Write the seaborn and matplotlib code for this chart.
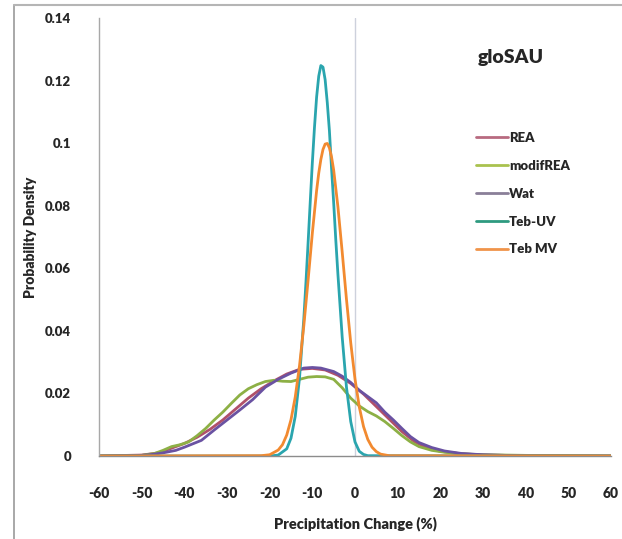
import numpy as np
import pandas as pd
import seaborn as sns
import matplotlib
matplotlib.use("Agg")
import matplotlib.pyplot as plt
from matplotlib.lines import Line2D

# Precipitation change (%) and probability density for each estimate
rea_x = [-60, -50, -46, -43, -40, -37, -34, -31, -28, -25, -22, -19, -16, -13, -10, -7, -4, -1,
         2, 5, 8, 11, 14, 17, 20, 25, 30, 40, 60]
rea_y = [0, 0.0003, 0.001, 0.0025, 0.004, 0.006, 0.0085, 0.0115, 0.015, 0.0185, 0.0215, 0.024,
         0.0262, 0.0277, 0.028, 0.0275, 0.0258, 0.0232, 0.0198, 0.0158, 0.0118, 0.0078, 0.0045,
         0.0025, 0.0015, 0.0007, 0.0003, 0.0001, 0]

modrea_x = [-60, -50, -47, -45, -43, -41, -39, -37, -35, -33, -31, -29, -27, -25, -23, -21, -19,
            -17, -15, -13, -11, -9, -7, -5, -3, -1, 1, 3, 5, 7, 9, 11, 13, 15, 18, 21, 25, 30,
            40, 50, 60]
modrea_y = [0, 0.0002, 0.0008, 0.0018, 0.003, 0.0036, 0.0045, 0.0065, 0.0088, 0.0115, 0.014,
            0.0168, 0.0195, 0.0215, 0.0228, 0.0238, 0.0242, 0.0239, 0.0238, 0.0245, 0.0252,
            0.0254, 0.0253, 0.0245, 0.0218, 0.0185, 0.016, 0.0142, 0.0128, 0.011, 0.0088,
            0.0065, 0.0045, 0.003, 0.0018, 0.0012, 0.0007, 0.0004, 0.0002, 0.0001, 0]

wat_x = [-60, -50, -48, -45, -42, -40, -36, -33, -30, -27, -24, -21, -18, -15, -12, -10, -8, -5,
         -3, -1, 1, 3, 5, 7, 9, 11, 13, 15, 18, 21, 25, 30, 35, 40, 50, 60]
wat_y = [0, 0.0002, 0.0004, 0.001, 0.0018, 0.0028, 0.005, 0.0083, 0.0115, 0.0147, 0.018, 0.022,
         0.0245, 0.0265, 0.0281, 0.0283, 0.0281, 0.027, 0.0255, 0.0235, 0.021, 0.019, 0.017,
         0.014, 0.0115, 0.0088, 0.0062, 0.0043, 0.0027, 0.0016, 0.0008, 0.0004, 0.0002,
         0.0001, 0, 0]

tebuv_x = [-60, -20, -18, -16, -15, -14, -13, -12, -11.5, -11, -10.5, -10, -9.5, -9, -8.5, -8,
           -7.5, -7, -6.5, -6, -5.5, -5, -4.5, -4, -3, -2, -1, 0, 1, 2, 3, 60]
tebuv_y = [0, 0, 0.0003, 0.0023, 0.0057, 0.0127, 0.025, 0.0438, 0.0554, 0.068, 0.081, 0.0937,
           0.105, 0.1147, 0.1214, 0.1248, 0.1243, 0.1203, 0.113, 0.104, 0.092, 0.081, 0.069,
           0.058, 0.038, 0.022, 0.011, 0.0045, 0.0015, 0.0005, 0.0001, 0]

tebmv_x = [-60, -22, -20, -18, -17, -16, -15, -14, -13, -12, -11, -10, -9, -8.5, -8, -7.5, -7,
           -6.5, -6, -5.5, -5, -4, -3, -2, -1, 0, 1, 2, 3, 4, 5, 6, 8, 60]
tebmv_y = [0, 0.0001, 0.0004, 0.0019, 0.0036, 0.0067, 0.0116, 0.0189, 0.0289, 0.0416, 0.0561,
           0.0712, 0.0848, 0.0904, 0.0948, 0.098, 0.0997, 0.0999, 0.0985, 0.0956, 0.0914,
           0.0796, 0.0652, 0.0501, 0.0362, 0.0246, 0.0157, 0.0094, 0.0053, 0.0028, 0.0014,
           0.0006, 0.0001, 0]

series = {
    "REA": (rea_x, rea_y),
    "modifREA": (modrea_x, modrea_y),
    "Wat": (wat_x, wat_y),
    "Teb-UV": (tebuv_x, tebuv_y),
    "Teb MV": (tebmv_x, tebmv_y),
}
colors = {
    "REA": "#B0506A",
    "modifREA": "#8DB045",
    "Wat": "#6A52A2",
    "Teb-UV": "#2AA5AE",
    "Teb MV": "#F28A30",
}
legend_colors = {
    "REA": "#B86A80",
    "modifREA": "#A9C24E",
    "Wat": "#8A7F98",
    "Teb-UV": "#2E9A80",
    "Teb MV": "#F0944A",
}

x_ticks = list(range(-60, 61, 10))
y_ticks = [0, 0.02, 0.04, 0.06, 0.08, 0.1, 0.12, 0.14]

frames = []
for name, (xs, ys) in series.items():
    frames.append(pd.DataFrame({"change": xs, "density": ys, "model": name}))
df = pd.concat(frames, ignore_index=True)

sns.set_theme(style="white")
plt.rcParams["font.family"] = ["Lato", "DejaVu Sans"]
plt.rcParams["axes.unicode_minus"] = False

fig = plt.figure(figsize=(6.22, 5.39), dpi=100)
ax = fig.add_axes([99 / 622, 1 - 456 / 539, 512 / 622, 438 / 539])

ax.axvline(0, color="#CDD1DC", lw=1.0, zorder=0)

sns.lineplot(data=df, x="change", y="density", hue="model", palette=colors,
             estimator=None, sort=True, lw=2.0, ax=ax, legend=False)

ax.set_xlim(-60, 60)
ax.set_ylim(0, 0.14)
ax.set_xticks(x_ticks)
ax.set_xticklabels([str(v) for v in x_ticks])
ax.set_yticks(y_ticks)
ax.set_yticklabels([f"{v:g}" for v in y_ticks])

for s in ["top", "right"]:
    ax.spines[s].set_visible(False)
ax.spines["left"].set_color("#A8A8A8")
ax.spines["bottom"].set_color("#8C8C8C")
ax.spines["left"].set_linewidth(1.0)
ax.spines["bottom"].set_linewidth(1.0)

ax.tick_params(axis="y", direction="out", length=4, width=0.8, color="#A8A8A8",
               pad=16, labelsize=9.5)
ax.tick_params(axis="x", direction="out", length=4, width=0.8, color="#8C8C8C",
               pad=18, labelsize=10)
for lab in ax.get_xticklabels() + ax.get_yticklabels():
    lab.set_fontweight("heavy")

ax.set_xlabel("Precipitation Change (%)", fontsize=10.5, fontweight="heavy", labelpad=12)
ax.set_ylabel("Probability Density", fontsize=10, fontweight="heavy", labelpad=6)
ax.grid(False)

ax.text(478 / 622, 1 - 57 / 539, "gloSAU", transform=fig.transFigure, fontsize=14,
        fontweight="heavy", va="center", ha="left")

handles = [Line2D([0], [0], color=legend_colors[n], lw=2.0) for n in series]
fig.legend(handles, list(series.keys()), loc="upper left",
           bbox_to_anchor=(476 / 622, 1 - 132 / 539), frameon=False,
           prop={"weight": "heavy", "size": 9.5}, handlelength=2.4, handletextpad=0.1,
           labelspacing=1.2, borderpad=0, borderaxespad=0)

# outer chart border
fig.add_artist(Line2D([14 / 622, 14 / 622], [0, 1 - 5 / 539], transform=fig.transFigure,
                      color="#9A9A9A", lw=1.2))
fig.add_artist(Line2D([14 / 622, 1], [1 - 5 / 539, 1 - 5 / 539], transform=fig.transFigure,
                      color="#B5B5B5", lw=1.5))

fig.savefig("out.png", dpi=100)
